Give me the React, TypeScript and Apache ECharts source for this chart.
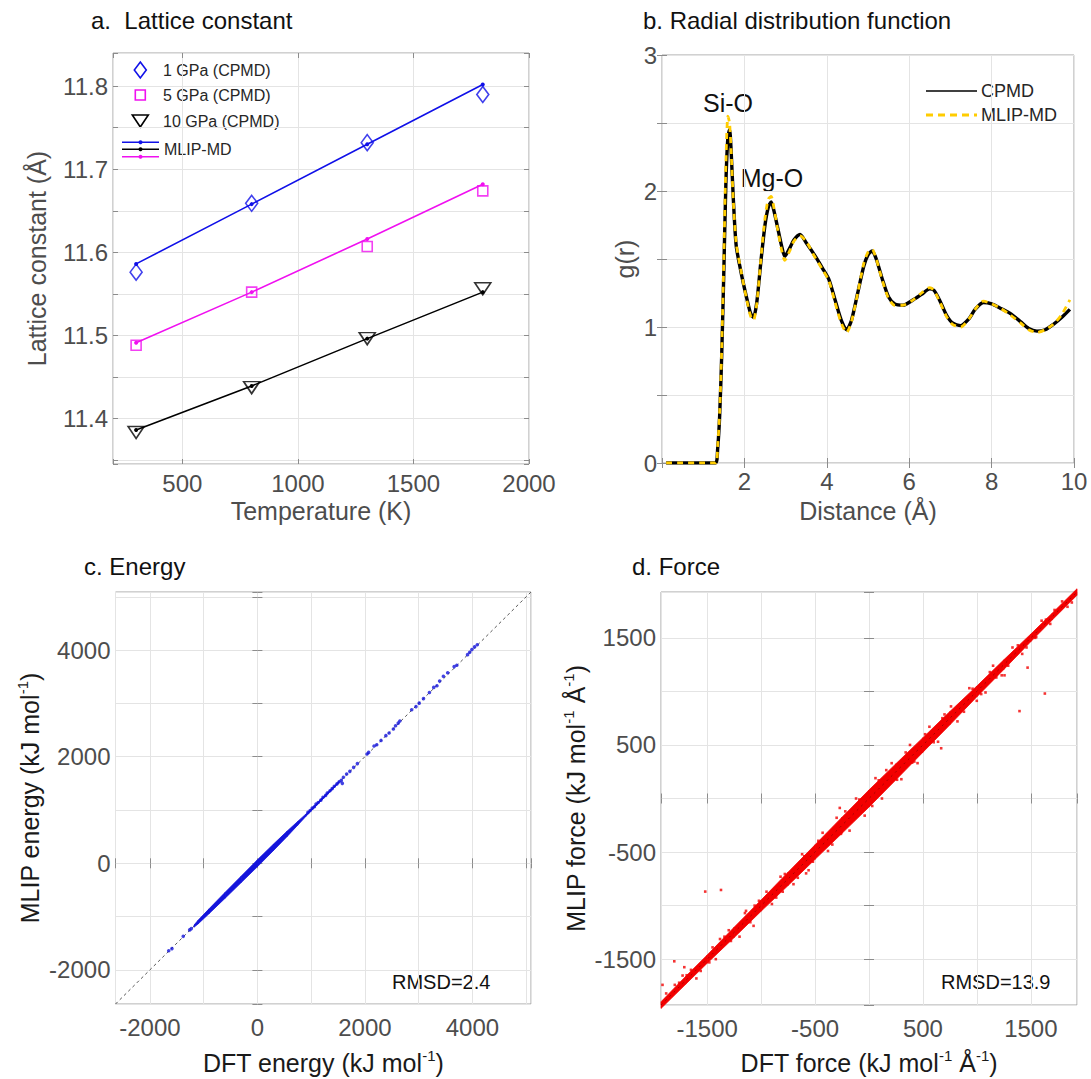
import React, { useEffect, useRef } from 'react';
import * as echarts from 'echarts';

const FONT = '"Liberation Sans", Arial, Helvetica, sans-serif';
const LABEL_GRAY = '#4d4d4d';
const BLUE = '#1010e8';
const MAGENTA = '#f010f0';
const GOLD = '#ffcc00';
const RED = '#f20000';
const ENERGY_BLUE = '#1414dc';

// ---------- a. Lattice constant ----------
const temperatureK = [300, 800, 1300, 1800];
const cpmd1GPa = [11.576, 11.659, 11.732, 11.79];
const cpmd5GPa = [11.488, 11.552, 11.607, 11.674];
const cpmd10GPa = [11.383, 11.437, 11.496, 11.556];
const mlip1GPa = [11.586, 11.658, 11.73, 11.802];
const mlip5GPa = [11.491, 11.552, 11.616, 11.682];
const mlip10GPa = [11.386, 11.439, 11.496, 11.552];

// ---------- b. Radial distribution function ----------
const rdfDistance = [
  0.1, 0.5, 1.0, 1.3, 1.35, 1.4, 1.45, 1.5, 1.55, 1.6, 1.64, 1.68, 1.73, 1.8, 1.92,
  2.05, 2.15, 2.22, 2.3, 2.4, 2.5, 2.58, 2.65, 2.72, 2.8, 2.9, 2.98, 3.1, 3.2, 3.35,
  3.5, 3.7, 3.9, 4.05, 4.2, 4.35, 4.48, 4.6, 4.75, 4.9, 5.0, 5.1, 5.2, 5.35, 5.5,
  5.65, 5.85, 6.1, 6.3, 6.5, 6.6, 6.75, 6.9, 7.05, 7.25, 7.45, 7.6, 7.8, 8.0, 8.2,
  8.45, 8.7, 8.9, 9.1, 9.3, 9.5, 9.7, 9.9,
];
const rdfCpmd = [
  0, 0, 0, 0, 0.1, 0.35, 0.8, 1.4, 2.05, 2.4, 2.45, 2.28, 1.95, 1.6, 1.4,
  1.22, 1.1, 1.07, 1.18, 1.48, 1.75, 1.88, 1.92, 1.85, 1.74, 1.6, 1.52, 1.58, 1.64, 1.68,
  1.62, 1.53, 1.43, 1.35, 1.2, 1.05, 0.98, 1.05, 1.25, 1.45, 1.53, 1.56, 1.5, 1.35, 1.22,
  1.17, 1.16, 1.2, 1.24, 1.28, 1.27, 1.19, 1.09, 1.03, 1.01, 1.06, 1.13, 1.18, 1.17, 1.14,
  1.1, 1.04, 0.99, 0.97, 0.98, 1.02, 1.07, 1.13,
];
const rdfMlip = [
  0, 0, 0, 0, 0.12, 0.38, 0.85, 1.5, 2.2, 2.55, 2.5, 2.28, 1.93, 1.62, 1.41,
  1.21, 1.08, 1.05, 1.17, 1.5, 1.8, 1.94, 1.96, 1.87, 1.73, 1.57, 1.49, 1.56, 1.63, 1.67,
  1.63, 1.52, 1.42, 1.34, 1.18, 1.03, 0.96, 1.04, 1.25, 1.47, 1.55, 1.57, 1.5, 1.34, 1.21,
  1.16, 1.16, 1.2, 1.25, 1.29, 1.27, 1.18, 1.08, 1.02, 1.0, 1.06, 1.13, 1.19, 1.17, 1.14,
  1.09, 1.03, 0.98, 0.96, 0.98, 1.02, 1.09, 1.2,
];

// ---------- c. Energy parity ----------
const energyRange = [-2640, 5090];
// dense core of the energy cloud: [DFT, MLIP lower edge, MLIP upper edge]
const energyBand = [
  [-1180, -1200, -1160],
  [-1100, -1135, -1065],
  [-900, -945, -855],
  [-600, -655, -545],
  [-300, -360, -240],
  [0, -65, 65],
  [300, 240, 360],
  [550, 500, 600],
  [750, 715, 785],
  [900, 878, 922],
  [1200, 1188, 1222],
  [1520, 1513, 1540],
];
const energyDft = [
  -1650, -1590, -1380, -1260, -1230, 940, 980, 1020, 1060, 1090, 1130, 1180, 1220, 1270,
  1300, 1350, 1390, 1430, 1480, 1520, 1560, 1580, 1600, 1660, 1720, 1790, 1860, 2040,
  2070, 2170, 2220, 2300, 2390, 2450, 2530, 2570, 2620, 2650, 2870, 2950, 3010, 3090,
  3200, 3280, 3340, 3390, 3460, 3540, 3660, 3710, 3910, 3950, 3990, 4040, 4090,
];
const energyMlip = [
  -1640, -1600, -1370, -1250, -1225, 955, 990, 1035, 1060, 1110, 1140, 1185, 1240, 1275,
  1320, 1360, 1400, 1445, 1490, 1530, 1555, 1500, 1615, 1675, 1725, 1800, 1870, 2050,
  2080, 2200, 2225, 2305, 2395, 2445, 2520, 2580, 2630, 2670, 2880, 2940, 3005, 3090,
  3205, 3300, 3330, 3420, 3510, 3575, 3690, 3715, 3915, 3960, 4010, 4060, 4100,
];

// ---------- d. Force parity ----------
const forceRange = [-1928, 1928];
// dense core of the force cloud: [DFT, MLIP lower edge, MLIP upper edge]
const forceBand = [
  [-1928, -1960, -1898],
  [-1700, -1735, -1662],
  [-1500, -1538, -1462],
  [-1250, -1298, -1202],
  [-1000, -1052, -948],
  [-750, -812, -688],
  [-500, -568, -432],
  [-250, -325, -175],
  [0, -80, 80],
  [250, 175, 325],
  [500, 432, 568],
  [750, 688, 812],
  [1000, 950, 1050],
  [1250, 1205, 1295],
  [1500, 1465, 1535],
  [1700, 1668, 1732],
  [1928, 1898, 1958],
];
const forceDft = [
  1395, 1630, 1470, 669, 999, 1256, -1518, -1372, -1805, -1712, -1914, -1070, -1140, -583,
  -1381, -1728, -271, 1550, -1880, -1860, -1800, -1650, -1600, -1450, -1420, -1300, -1200,
  -1150, -950, -900, -820, -700, -620, -560, -430, -380, -300, -180, -120, -40, 60, 120, 210,
  300, 380, 450, 560, 640, 760, 820, 930, 1080, 1150, 1230, 1330, 1420, 1600, 1680, 1790,
  1840, 1900, 1880,
  -1760, -1560, -1340, -1100, -1020, -860, -780, -660, -520, -470, -340, -220, -90, 30, 160,
  260, 340, 420, 520, 600, 700, 880, 960, 1040, 1120, 1290, 1380, 1460, 1540, 1720,
  -1690, -1480, -1280, -1060, -800, -600, -260, 90, 400, 680, 1180, 1640,
];
const forceMlip = [
  816, 980, 1222, 469, 912, 1150, -869, -854, -1520, -1575, -1740, -1189, -1049, -699,
  -1312, -1653, -88, 1507, -1820, -1930, -1740, -1600, -1680, -1390, -1500, -1230, -1290,
  -1070, -870, -985, -730, -800, -520, -670, -320, -490, -180, -300, 0, -160, 190, 0, 330,
  180, 500, 330, 670, 530, 860, 720, 1030, 990, 1240, 1150, 1410, 1350, 1660, 1630, 1840,
  1790, 1940, 1830,
  -1720, -1610, -1290, -1155, -955, -925, -705, -740, -590, -395, -430, -120, -10, -70, 265,
  175, 430, 345, 600, 525, 785, 810, 1025, 975, 1180, 1240, 1430, 1410, 1500, 1760,
  -1650, -1530, -1330, -1000, -870, -540, -330, 170, 335, 750, 1130, 1670,
];

const zip = (xs: number[], ys: number[]) => xs.map((x, i) => [x, ys[i]]);

const tick = { show: true, inside: true, length: 5, lineStyle: { color: '#8c8c8c', width: 1 } };
const gridSplit = { show: true, lineStyle: { color: '#e4e4e4', width: 1 } };

function nameStyle(color: string) {
  return {
    fontSize: 25,
    fontFamily: FONT,
    color,
    lineHeight: 30,
    rich: {
      sup: { fontSize: 15, lineHeight: 15, verticalAlign: 'top', fontFamily: FONT, color },
    },
  };
}

type AxisCfg = {
  min: number;
  max: number;
  splitNumber?: number;
  interval?: number;
  fmt: (v: number) => string;
  margin: number;
  name: string;
  nameGap: number;
  nameColor: string;
};

function axisPair(kind: 'x' | 'y', gridIndex: number, cfg: AxisCfg) {
  const base: any = {
    type: 'value',
    gridIndex,
    min: cfg.min,
    max: cfg.max,
    axisLine: { show: false },
    axisTick: tick,
  };
  if (cfg.splitNumber != null) base.splitNumber = cfg.splitNumber;
  if (cfg.interval != null) base.interval = cfg.interval;
  const main = {
    ...base,
    position: kind === 'x' ? 'bottom' : 'left',
    splitLine: gridSplit,
    axisLabel: {
      formatter: cfg.fmt,
      margin: cfg.margin,
      color: LABEL_GRAY,
      fontSize: 24,
      fontFamily: FONT,
    },
    name: cfg.name,
    nameLocation: 'middle',
    nameGap: cfg.nameGap,
    nameRotate: kind === 'x' ? 0 : 90,
    nameTextStyle: nameStyle(cfg.nameColor),
  };
  const mirror = {
    ...base,
    position: kind === 'x' ? 'top' : 'right',
    splitLine: { show: false },
    axisLabel: { show: false },
  };
  return [main, mirror];
}

const near = (a: number, b: number) => Math.abs(a - b) < 1e-6;

function bandSeries(rows: number[][], axisIndex: number, color: string) {
  return {
    type: 'custom',
    xAxisIndex: axisIndex,
    yAxisIndex: axisIndex,
    data: rows,
    silent: true,
    z: 3,
    encode: { x: 0, y: [1, 2] },
    renderItem: (params: any, api: any) => {
      const i = params.dataIndex;
      if (i >= rows.length - 1) return { type: 'group', children: [] };
      const a = rows[i];
      const b = rows[i + 1];
      const pts = [
        api.coord([a[0], a[2]]),
        api.coord([b[0], b[2]]),
        api.coord([b[0], b[1]]),
        api.coord([a[0], a[1]]),
      ];
      return {
        type: 'polygon',
        shape: { points: pts },
        style: { fill: color, stroke: color, lineWidth: 0.8 },
      };
    },
  };
}

function text(x: number, y: number, t: string, size: number, fill: string, align = 'left') {
  return {
    type: 'text',
    x,
    y,
    silent: true,
    style: { text: t, fill, fontSize: size, fontFamily: FONT, align, verticalAlign: 'middle' },
  };
}

function buildOption() {
  const oddFiveHundreds = (v: number) => {
    const k = v / 500;
    return near(k, Math.round(k)) && Math.abs(Math.round(k)) % 2 === 1 ? String(v) : '';
  };
  const xAxes = [
    ...axisPair('x', 0, {
      min: 200, max: 2000, splitNumber: 4,
      fmt: (v) => (near(v % 500, 0) ? String(v) : ''),
      margin: 7, name: 'Temperature (K)', nameGap: 31, nameColor: LABEL_GRAY,
    }),
    ...axisPair('x', 1, {
      min: 0, max: 10, interval: 2,
      fmt: (v) => (v > 0 && near(v % 2, 0) ? String(v) : ''),
      margin: 6, name: 'Distance (Å)', nameGap: 33, nameColor: LABEL_GRAY,
    }),
    ...axisPair('x', 2, {
      min: energyRange[0], max: energyRange[1], splitNumber: 8,
      fmt: (v) => (near(v % 2000, 0) ? String(v) : ''),
      margin: 11, name: 'DFT energy (kJ mol{sup|-1})', nameGap: 44, nameColor: '#1a1a1a',
    }),
    ...axisPair('x', 3, {
      min: forceRange[0], max: forceRange[1], splitNumber: 8,
      fmt: oddFiveHundreds,
      margin: 11, name: 'DFT force (kJ mol{sup|-1} Å{sup|-1})', nameGap: 43, nameColor: '#1a1a1a',
    }),
  ];
  const yAxes = [
    ...axisPair('y', 0, {
      min: 11.345, max: 11.84, splitNumber: 10,
      fmt: (v) => (near(v * 10, Math.round(v * 10)) ? v.toFixed(1) : ''),
      margin: 5, name: 'Lattice constant (Å)', nameGap: 61, nameColor: LABEL_GRAY,
    }),
    ...axisPair('y', 1, {
      min: 0, max: 3, interval: 0.5,
      fmt: (v) => (near(v, Math.round(v)) ? String(v) : ''),
      margin: 5, name: 'g(r)', nameGap: 19, nameColor: LABEL_GRAY,
    }),
    ...axisPair('y', 2, {
      min: energyRange[0], max: energyRange[1], splitNumber: 8,
      fmt: (v) => (near(v % 2000, 0) ? String(v) : ''),
      margin: 5, name: 'MLIP energy (kJ mol{sup|-1})', nameGap: 70, nameColor: '#1a1a1a',
    }),
    ...axisPair('y', 3, {
      min: forceRange[0], max: forceRange[1], splitNumber: 8,
      fmt: oddFiveHundreds,
      margin: 5, name: 'MLIP force (kJ mol{sup|-1} Å{sup|-1})', nameGap: 66, nameColor: '#1a1a1a',
    }),
  ];

  const frame = { show: true, borderColor: '#a3a3a3', borderWidth: 1, backgroundColor: 'transparent' };

  const series: any[] = [
    // a: MLIP-MD lines
    ...[
      [mlip1GPa, BLUE],
      [mlip5GPa, MAGENTA],
      [mlip10GPa, '#000000'],
    ].map(([vals, color]) => ({
      type: 'line',
      xAxisIndex: 0,
      yAxisIndex: 0,
      data: zip(temperatureK, vals as number[]),
      symbol: 'circle',
      symbolSize: 4,
      itemStyle: { color: color as string },
      lineStyle: { color: color as string, width: 1.6 },
      z: 3,
    })),
    // a: CPMD markers
    {
      type: 'scatter', xAxisIndex: 0, yAxisIndex: 0, data: zip(temperatureK, cpmd1GPa),
      symbol: 'diamond', symbolSize: [12, 16], z: 4,
      itemStyle: { color: 'rgba(0,0,0,0)', borderColor: BLUE, borderWidth: 1.6 },
    },
    {
      type: 'scatter', xAxisIndex: 0, yAxisIndex: 0, data: zip(temperatureK, cpmd5GPa),
      symbol: 'rect', symbolSize: 10, z: 4,
      itemStyle: { color: 'rgba(0,0,0,0)', borderColor: MAGENTA, borderWidth: 1.6 },
    },
    {
      type: 'scatter', xAxisIndex: 0, yAxisIndex: 0, data: zip(temperatureK, cpmd10GPa),
      symbol: 'triangle', symbolSize: [16, 12], symbolRotate: 180, z: 4,
      itemStyle: { color: 'rgba(0,0,0,0)', borderColor: '#000000', borderWidth: 1.6 },
    },
    // b: RDF curves
    {
      type: 'line', xAxisIndex: 2, yAxisIndex: 2, data: zip(rdfDistance, rdfCpmd),
      symbol: 'none', smooth: 0.25, z: 3,
      lineStyle: { color: '#000000', width: 3.4 },
    },
    {
      type: 'line', xAxisIndex: 2, yAxisIndex: 2, data: zip(rdfDistance, rdfMlip),
      symbol: 'none', smooth: 0.25, z: 4,
      lineStyle: { color: GOLD, width: 2.8, type: [6, 5] },
    },
    // c: energy parity
    {
      type: 'line', xAxisIndex: 4, yAxisIndex: 4,
      data: [[energyRange[0], energyRange[0]], [energyRange[1], energyRange[1]]],
      symbol: 'none', z: 2, silent: true,
      lineStyle: { color: '#444444', width: 0.9, type: [3, 3] },
    },
    bandSeries(energyBand, 4, ENERGY_BLUE),
    {
      type: 'scatter', xAxisIndex: 4, yAxisIndex: 4, data: zip(energyDft, energyMlip),
      symbol: 'circle', symbolSize: 3.6, z: 4,
      itemStyle: { color: ENERGY_BLUE },
    },
    // d: force parity
    bandSeries(forceBand, 6, RED),
    {
      type: 'scatter', xAxisIndex: 6, yAxisIndex: 6, data: zip(forceDft, forceMlip),
      symbol: 'rect', symbolSize: 2.6, z: 4,
      itemStyle: { color: RED },
    },
    {
      type: 'line', xAxisIndex: 6, yAxisIndex: 6,
      data: [[forceRange[0], forceRange[0]], [forceRange[1], forceRange[1]]],
      symbol: 'none', z: 5, silent: true,
      lineStyle: { color: '#3a0000', width: 0.8, type: [2, 4], opacity: 0.5 },
    },
  ];

  const graphic: any[] = [
    // panel titles
    text(91, 20, 'a.  Lattice constant', 24, '#111111'),
    text(643, 20, 'b. Radial distribution function', 24, '#111111'),
    text(84, 566, 'c. Energy', 24, '#111111'),
    text(632, 566, 'd. Force', 24, '#111111'),
    // legend of panel a
    {
      type: 'polygon', silent: true,
      shape: { points: [[140.3, 62], [146.3, 70], [140.3, 78], [134.3, 70]] },
      style: { fill: 'none', stroke: BLUE, lineWidth: 1.6 },
    },
    {
      type: 'rect', silent: true,
      shape: { x: 135.3, y: 90, width: 10, height: 10 },
      style: { fill: 'none', stroke: MAGENTA, lineWidth: 1.6 },
    },
    {
      type: 'polygon', silent: true,
      shape: { points: [[132.3, 115], [148.3, 115], [140.3, 127]] },
      style: { fill: 'none', stroke: '#000000', lineWidth: 1.6 },
    },
    ...[
      [142.3, BLUE],
      [149.3, '#000000'],
      [156.7, MAGENTA],
    ].flatMap(([y, c]) => [
      {
        type: 'line', silent: true,
        shape: { x1: 122, y1: y as number, x2: 159, y2: y as number },
        style: { stroke: c as string, lineWidth: 1.6 },
      },
      {
        type: 'circle', silent: true,
        shape: { cx: 140.5, cy: y as number, r: 2 },
        style: { fill: c as string },
      },
    ]),
    text(163, 70, '1 GPa (CPMD)', 16, '#262626'),
    text(163, 95, '5 GPa (CPMD)', 16, '#262626'),
    text(163, 121, '10 GPa (CPMD)', 16, '#262626'),
    text(164, 149, 'MLIP-MD', 16, '#262626'),
    // legend of panel b
    {
      type: 'line', silent: true,
      shape: { x1: 926, y1: 91, x2: 977, y2: 91 },
      style: { stroke: '#000000', lineWidth: 1.6 },
    },
    {
      type: 'line', silent: true,
      shape: { x1: 926, y1: 115, x2: 977, y2: 115 },
      style: { stroke: GOLD, lineWidth: 3, lineDash: [7, 5] },
    },
    text(981, 91, 'CPMD', 18, '#262626'),
    text(981, 115, 'MLIP-MD', 18, '#262626'),
    // peak labels
    text(728, 103, 'Si-O', 25, '#111111', 'center'),
    text(772, 178, 'Mg-O', 25, '#111111', 'center'),
    // RMSD notes
    text(392, 982, 'RMSD=2.4', 20, '#111111'),
    text(941, 982, 'RMSD=13.9', 20, '#111111'),
  ];

  return {
    animation: false,
    backgroundColor: '#ffffff',
    textStyle: { fontFamily: FONT },
    grid: [
      { left: 113, top: 53, width: 416, height: 411, ...frame },
      { left: 662, top: 55, width: 412, height: 408, ...frame },
      { left: 115.5, top: 592, width: 415.5, height: 414, ...frame },
      { left: 661, top: 592, width: 416, height: 415, ...frame },
    ],
    xAxis: xAxes,
    yAxis: yAxes,
    series,
    graphic,
  };
}

export default function App() {
  const ref = useRef<HTMLDivElement>(null);
  useEffect(() => {
    const el = ref.current;
    if (!el) return;
    const chart = echarts.init(el, undefined, { renderer: 'svg' });
    chart.setOption(buildOption() as any);
    return () => chart.dispose();
  }, []);
  return (
    <div
      ref={ref}
      style={{ position: 'fixed', left: 0, top: 0, width: 1091, height: 1079, background: '#ffffff' }}
    />
  );
}
